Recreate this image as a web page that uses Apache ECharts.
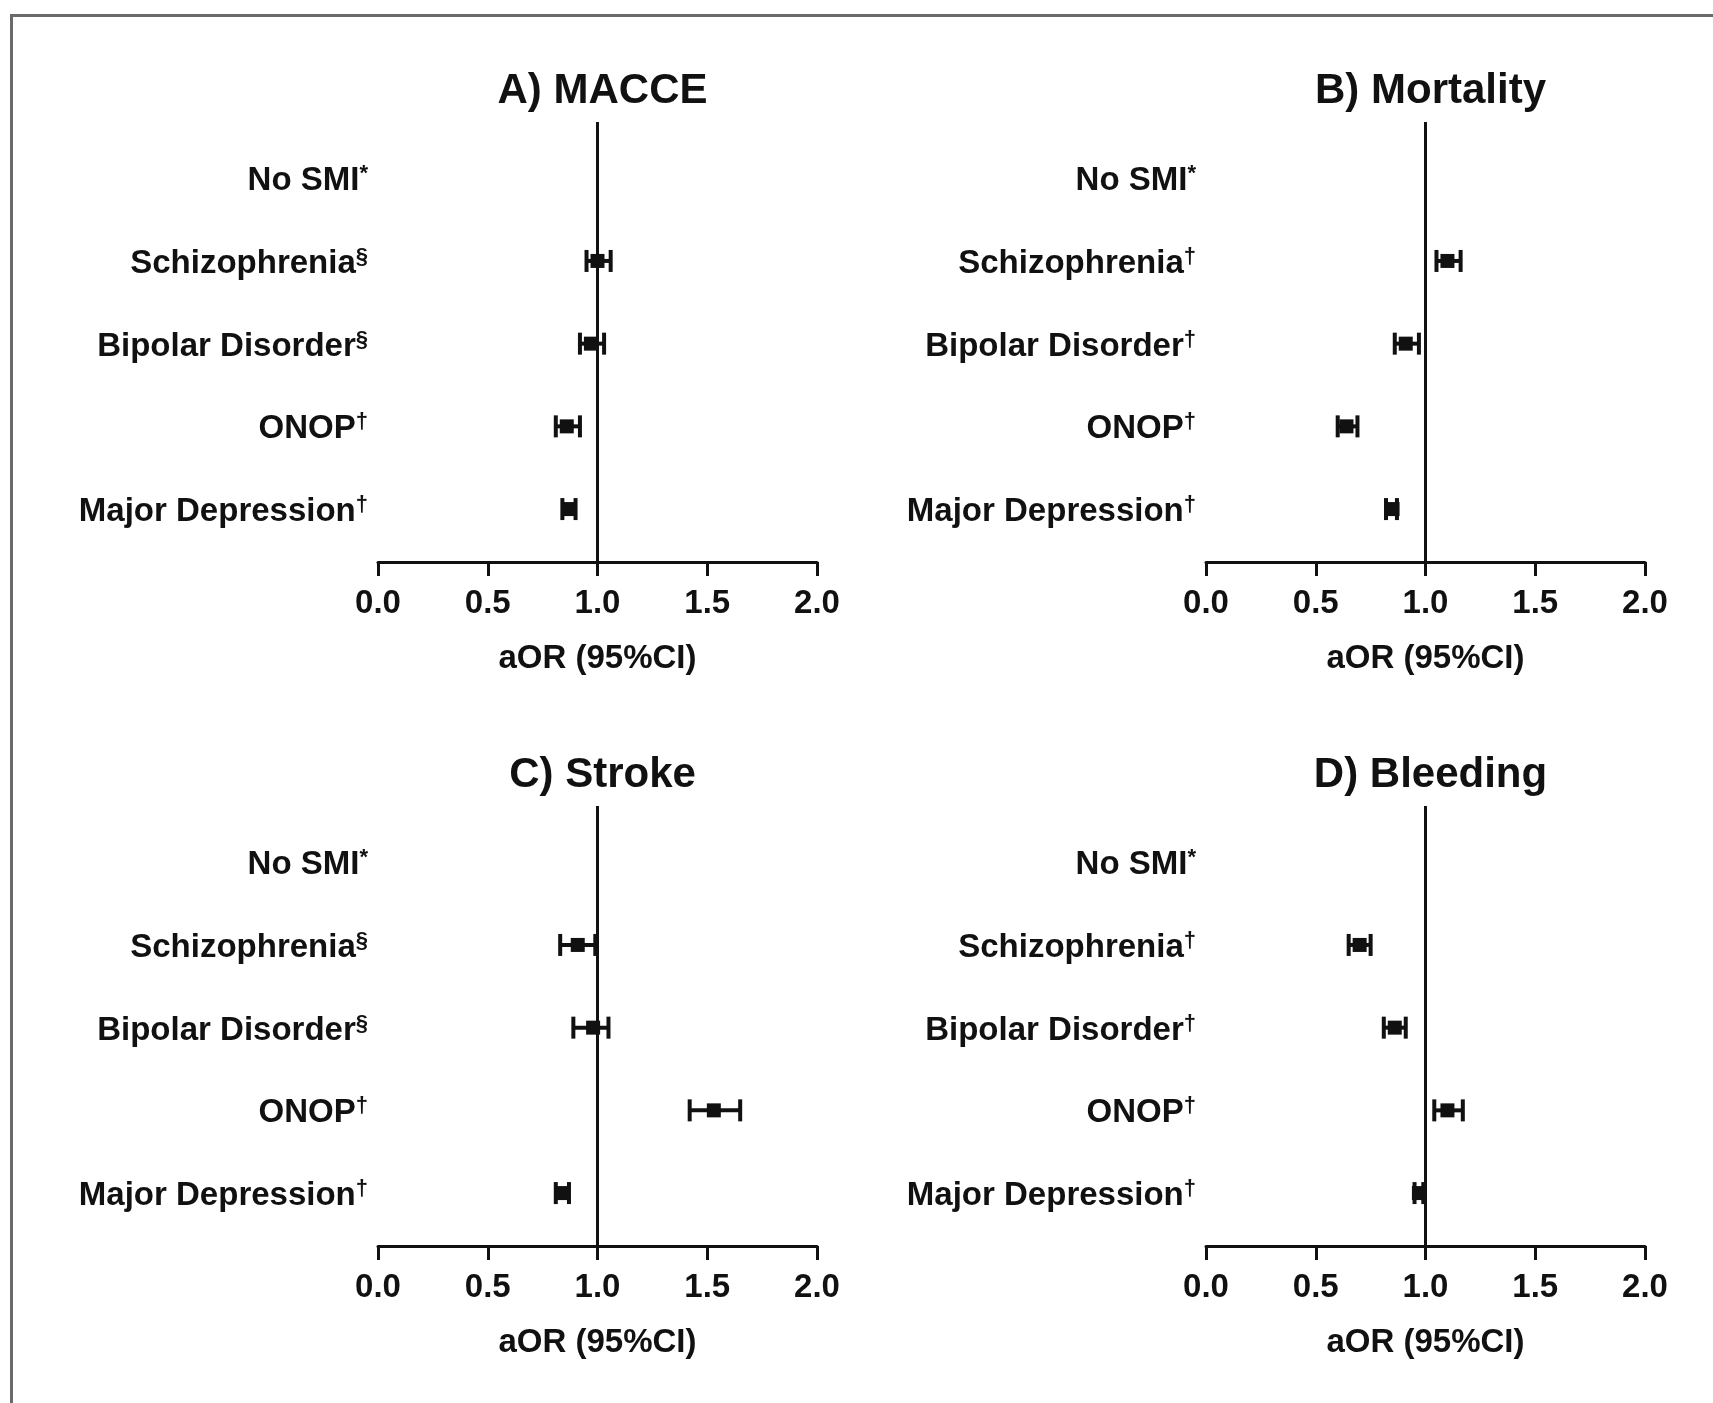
<!DOCTYPE html>
<html>
<head>
<meta charset="utf-8">
<script src="https://cdn.jsdelivr.net/npm/echarts@6/dist/echarts.min.js"></script>
<style>
  html, body { margin: 0; padding: 0; background: #fff; }
  #wrap { position: relative; width: 1713px; height: 1403px; overflow: hidden; }
  #frame { position: absolute; left: 10px; top: 14px; width: 1720px; height: 1420px;
           border-left: 3px solid #6a6a6a; border-top: 3px solid #6a6a6a; }
  #chart { position: absolute; left: 0; top: 0; width: 1713px; height: 1403px; }
</style>
</head>
<body>
<div id="wrap"><div id="frame"></div><div id="chart"></div></div>
<script>
// ---- data ----
const catNames = ['No SMI', 'Schizophrenia', 'Bipolar Disorder', 'ONOP', 'Major Depression'];
const marksAC = ['*', '§', '§', '†', '†'];
const marksBD = ['*', '†', '†', '†', '†'];
const xTicks = [0.0, 0.5, 1.0, 1.5, 2.0];
const panelTitles = ['A) MACCE', 'B) Mortality', 'C) Stroke', 'D) Bleeding'];
const axisTitle = 'aOR (95%CI)';

const macceEst  = [null, 1.00, 0.97, 0.86, 0.87];
const macceLow  = [null, 0.95, 0.92, 0.81, 0.84];
const macceHigh = [null, 1.06, 1.03, 0.92, 0.90];

const mortEst  = [null, 1.10, 0.91, 0.64, 0.85];
const mortLow  = [null, 1.05, 0.86, 0.60, 0.82];
const mortHigh = [null, 1.16, 0.97, 0.69, 0.87];

const strokeEst  = [null, 0.91, 0.98, 1.53, 0.84];
const strokeLow  = [null, 0.83, 0.89, 1.42, 0.81];
const strokeHigh = [null, 0.99, 1.05, 1.65, 0.87];

const bleedEst  = [null, 0.70, 0.86, 1.10, 0.97];
const bleedLow  = [null, 0.65, 0.81, 1.04, 0.95];
const bleedHigh = [null, 0.75, 0.91, 1.17, 0.99];

// ---- layout ----
const FONT = '"Liberation Sans", Arial, Helvetica, sans-serif';
const INK = '#111';
const grids = [
  { left: 378, top: 122, width: 439, height: 440 },
  { left: 1206, top: 122, width: 439, height: 440 },
  { left: 378, top: 806, width: 439, height: 440 },
  { left: 1206, top: 806, width: 439, height: 440 }
];
const panels = [
  { est: macceEst, low: macceLow, high: macceHigh, marks: marksAC },
  { est: mortEst, low: mortLow, high: mortHigh, marks: marksBD },
  { est: strokeEst, low: strokeLow, high: strokeHigh, marks: marksAC },
  { est: bleedEst, low: bleedLow, high: bleedHigh, marks: marksBD }
];

function renderItem(params, api) {
  const y = api.value(0);
  const lo = api.coord([api.value(1), y]);
  const es = api.coord([api.value(2), y]);
  const hi = api.coord([api.value(3), y]);
  const cap = 11, m = 7;
  const st = { stroke: INK, lineWidth: 4 };
  return {
    type: 'group',
    children: [
      { type: 'line', shape: { x1: lo[0], y1: lo[1], x2: hi[0], y2: hi[1] }, style: st },
      { type: 'line', shape: { x1: lo[0], y1: lo[1] - cap, x2: lo[0], y2: lo[1] + cap }, style: st },
      { type: 'line', shape: { x1: hi[0], y1: hi[1] - cap, x2: hi[0], y2: hi[1] + cap }, style: st },
      { type: 'rect', shape: { x: es[0] - m, y: es[1] - m, width: 2 * m, height: 2 * m }, style: { fill: INK } }
    ]
  };
}

const option = {
  animation: false,
  textStyle: { fontFamily: FONT },
  title: panelTitles.map((t, i) => ({
    text: t,
    left: grids[i].left + grids[i].width / 2,
    top: grids[i].top - 57,
    textAlign: 'center',
    textStyle: { fontFamily: FONT, fontSize: 42, fontWeight: 'bold', color: INK }
  })),
  grid: grids,
  xAxis: grids.map((g, i) => ({
    type: 'value', gridIndex: i, min: 0, max: 2, interval: 0.5,
    name: axisTitle, nameLocation: 'middle', nameGap: 80,
    nameTextStyle: { fontFamily: FONT, fontSize: 33, fontWeight: 'bold', color: INK },
    axisLine: { show: true, onZero: false, lineStyle: { color: INK, width: 3 } },
    axisTick: { show: true, length: 14, lineStyle: { color: INK, width: 3 } },
    axisLabel: { margin: 25, fontFamily: FONT, fontSize: 33, fontWeight: 'bold', color: INK,
                 formatter: v => v.toFixed(1), customValues: xTicks },
    splitLine: { show: false }
  })),
  yAxis: panels.map((p, i) => ({
    type: 'value', gridIndex: i, inverse: true, min: -0.68, max: 4.64,
    axisLine: { show: false }, axisTick: { show: false }, splitLine: { show: false },
    axisLabel: {
      margin: 10, customValues: [0, 1, 2, 3, 4],
      padding: [6, 0, 0, 0],
      formatter: v => '{t|' + catNames[v] + '}{s|' + p.marks[v] + '}',
      rich: {
        t: { fontFamily: FONT, fontSize: 33, fontWeight: 'bold', color: INK, lineHeight: 36 },
        s: { fontFamily: FONT, fontSize: 22, fontWeight: 'bold', color: INK, verticalAlign: 'top', lineHeight: 24 }
      }
    }
  })),
  series: panels.map((p, i) => ({
    type: 'custom', xAxisIndex: i, yAxisIndex: i,
    renderItem: renderItem,
    dimensions: ['row', 'low', 'est', 'high'],
    encode: { x: [1, 2, 3], y: 0 },
    data: catNames.map((c, k) => [k, p.low[k], p.est[k], p.high[k]]).filter(d => d[2] !== null),
    markLine: {
      silent: true, symbol: 'none', animation: false,
      label: { show: false },
      lineStyle: { color: INK, width: 3, type: 'solid' },
      data: [{ xAxis: 1 }]
    }
  }))
};

const chart = echarts.init(document.getElementById('chart'), null, { renderer: 'canvas' });
chart.setOption(option);
</script>
</body>
</html>
